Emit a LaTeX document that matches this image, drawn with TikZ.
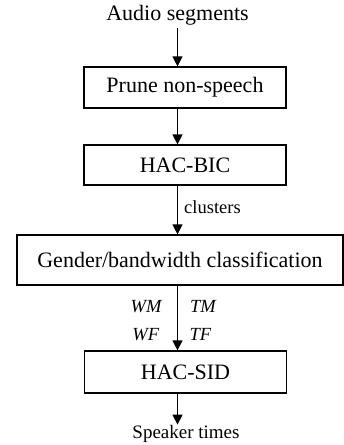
\documentclass[tikz,border=0pt]{standalone}
\usepackage{fontspec}
\setmainfont{Liberation Serif}
\usetikzlibrary{arrows.meta}

\begin{document}
\begin{tikzpicture}[x=1pt,y=1pt,
        stage/.style={draw,line width=1.2pt,minimum width=202pt,minimum height=41pt,inner sep=0pt,font=\fontsize{22}{26}\selectfont},
        io/.style={inner sep=2.5pt,font=\fontsize{22}{26}\selectfont},
        tag/.style={inner sep=0pt,font=\fontsize{18.5}{22}\selectfont},
        flow/.style={line width=1.2pt,-{Triangle[length=10pt,width=10pt]}}]
        \useasboundingbox (0,0) rectangle (344,-445);
        % processing chain
        \node[io,anchor=base] (audio) at (177.5,-20.7) {Audio segments};
        \node[stage] (prune) at (185,-87.5) {Prune non-speech};
        \node[stage,minimum height=40pt] (hacbic) at (185,-165) {HAC-BIC};
        \node[stage,minimum width=326pt,minimum height=50pt] (gender) at (180,-260) {Gender/bandwidth classification};
        \node[tag,anchor=base,font=\fontsize{19}{22}\selectfont] (speaker) at (186,-438) {Speaker times};
        \node[stage,minimum height=42pt] (hacsid) at (185.5,-372) {HAC-SID};
        % arrows all run down one vertical line
        \draw[flow] (audio.south) -- (audio.south |- prune.north);
        \foreach \a/\b in {prune/hacbic,hacbic/gender,gender/hacsid,hacsid/speaker}
            \draw[flow] (audio.south |- \a.south) -- (audio.south |- \b.north);
        % labels on the arrows
        \node[tag,anchor=base west] (clus) at (184,-213) {clusters};
        \node[tag,anchor=base east] (wm) at (162.5,-312.5) {\textit{WM}};
        \node[tag,anchor=base west] (tm) at (190,-312.5) {\textit{TM}};
        \node[tag,anchor=base east] (wf) at (159.5,-340.5) {\textit{WF}};
        \node[tag,anchor=base west] (tf) at (189.5,-340.5) {\textit{TF}};
\end{tikzpicture}
\end{document}
